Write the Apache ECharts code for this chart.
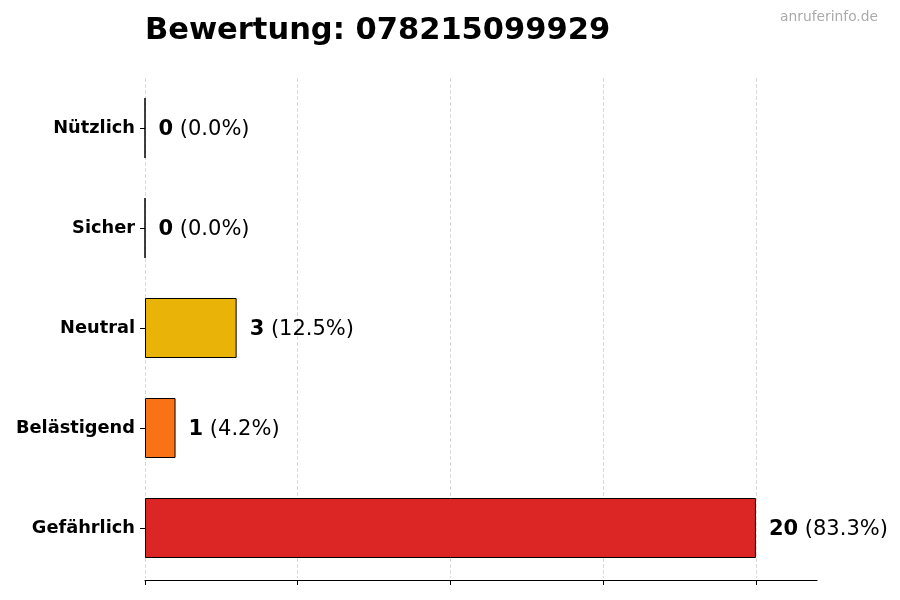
<!DOCTYPE html>
<html><head><meta charset="utf-8">
<script src="https://cdn.jsdelivr.net/npm/echarts@6/dist/echarts.min.js"></script>
<style>html,body{margin:0;padding:0;background:#fff}#c{width:900px;height:600px}</style>
</head><body><div id="c"></div>
<script>
const categories = ['Gefährlich', 'Belästigend', 'Neutral', 'Sicher', 'Nützlich'];
const values = [20, 1, 3, 0, 0];
const colors = ['#DC2626', '#F97316', '#EAB308', '#22C55E', '#3B82F6'];
const xTicks = [0, 5, 10, 15, 20];
const titleText = 'Bewertung: 078215099929';
const watermark = 'anruferinfo.de';

const total = values.reduce((a, b) => a + b, 0);
const chart = echarts.init(document.getElementById('c'));
chart.setOption({
  animation: false,
  textStyle: { fontFamily: 'DejaVu Sans' },
  title: [
    { text: titleText, left: 140, top: 11, textStyle: { fontSize: 30.5, fontWeight: 'bold', color: '#000', fontFamily: 'DejaVu Sans' } },
    { text: watermark, right: 17, top: 5, textStyle: { fontSize: 13.8, fontWeight: 'normal', color: '#aaaaaa', fontFamily: 'DejaVu Sans' } }
  ],
  grid: { left: 145, right: 83, top: 78, bottom: 22, containLabel: false },
  xAxis: {
    type: 'value', min: 0, max: 22, interval: 5, offset: 2,
    axisLine: { show: true, lineStyle: { color: '#000', width: 1.2 } },
    axisTick: { show: true, length: 5, customValues: xTicks, lineStyle: { color: '#000' } },
    axisLabel: { show: false, customValues: xTicks },
    splitLine: { show: true, lineStyle: { color: '#d0d0d0', type: [4, 2], width: 0.8 } }
  },
  yAxis: {
    type: 'category', data: categories,
    axisLine: { show: false },
    axisTick: { show: true, alignWithLabel: true, length: 5, lineStyle: { color: '#000' } },
    axisLabel: { fontSize: 17.8, fontWeight: 'bold', color: '#000', margin: 10, padding: [6, 0, 0, 0], fontFamily: 'DejaVu Sans' }
  },
  series: [{
    type: 'bar', barWidth: '60%',
    data: values.map((v, i) => ({ value: v, itemStyle: { color: colors[i] } })),
    itemStyle: { borderColor: '#000', borderWidth: 1 },
    label: {
      show: true, position: 'right', distance: 13, offset: [0, 1.5],
      formatter: p => '{b|' + p.value + '}{n| (' + (p.value / total * 100).toFixed(1) + '%)}',
      rich: {
        b: { fontSize: 21, fontWeight: 'bold', color: '#000', fontFamily: 'DejaVu Sans' },
        n: { fontSize: 21, color: '#000', fontFamily: 'DejaVu Sans' }
      }
    }
  }]
});
</script></body></html>
